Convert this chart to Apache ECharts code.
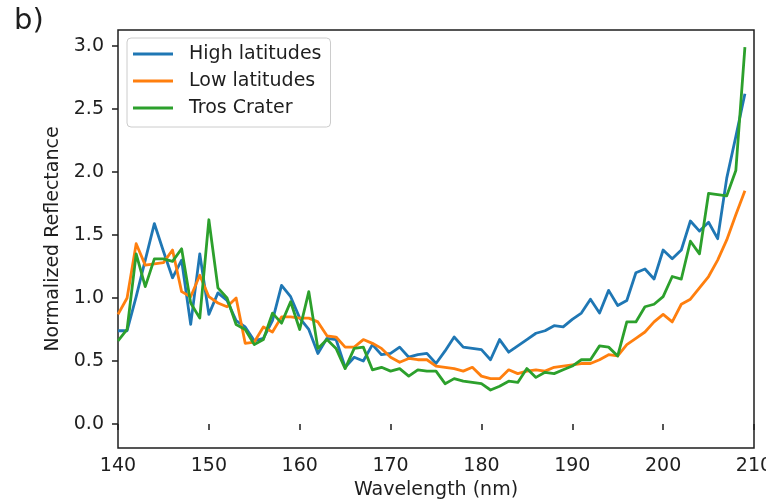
<!DOCTYPE html>
<html>
<head>
<meta charset="utf-8">
<script src="https://cdn.jsdelivr.net/npm/echarts@6/dist/echarts.min.js"></script>
<style>
  html, body { margin: 0; padding: 0; background: #fff; }
  #chart { width: 766px; height: 503px; }
</style>
</head>
<body>
<div id="chart"></div>
<script>
// Wavelength grid (nm)
const wavelengths = [
  140, 141, 142, 143, 144, 145, 146, 147, 148, 149,
  150, 151, 152, 153, 154, 155, 156, 157, 158, 159,
  160, 161, 162, 163, 164, 165, 166, 167, 168, 169,
  170, 171, 172, 173, 174, 175, 176, 177, 178, 179,
  180, 181, 182, 183, 184, 185, 186, 187, 188, 189,
  190, 191, 192, 193, 194, 195, 196, 197, 198, 199,
  200, 201, 202, 203, 204, 205, 206, 207, 208, 209
];

// Normalized reflectance spectra
const highLatitudes = [
  0.74, 0.74, 1.01, 1.30, 1.59, 1.37, 1.16, 1.30, 0.79, 1.35,
  0.87, 1.04, 0.98, 0.82, 0.77, 0.66, 0.68, 0.82, 1.10, 1.01,
  0.84, 0.75, 0.56, 0.68, 0.67, 0.45, 0.53, 0.50, 0.63, 0.55,
  0.56, 0.61, 0.53, 0.55, 0.56, 0.48, 0.58, 0.69, 0.61, 0.60,
  0.59, 0.51, 0.67, 0.57, 0.62, 0.67, 0.72, 0.74, 0.78, 0.77,
  0.83, 0.88, 0.99, 0.88, 1.06, 0.94, 0.98, 1.20, 1.23, 1.15,
  1.38, 1.31, 1.38, 1.61, 1.53, 1.60, 1.47, 1.95, 2.28, 2.62
];

const lowLatitudes = [
  0.87, 1.00, 1.43, 1.26, 1.27, 1.28, 1.38, 1.05, 1.01, 1.18,
  1.01, 0.96, 0.93, 1.00, 0.64, 0.65, 0.77, 0.73, 0.85, 0.85,
  0.84, 0.84, 0.81, 0.70, 0.69, 0.61, 0.61, 0.67, 0.64, 0.60,
  0.53, 0.49, 0.52, 0.51, 0.51, 0.46, 0.45, 0.44, 0.42, 0.45,
  0.38, 0.36, 0.36, 0.43, 0.40, 0.42, 0.43, 0.42, 0.45, 0.46,
  0.47, 0.48, 0.48, 0.51, 0.55, 0.54, 0.63, 0.68, 0.73, 0.81,
  0.87, 0.81, 0.95, 0.99, 1.08, 1.17, 1.30, 1.46, 1.66, 1.85
];

const trosCrater = [
  0.66, 0.75, 1.35, 1.09, 1.31, 1.31, 1.29, 1.39, 0.96, 0.84,
  1.62, 1.08, 1.00, 0.79, 0.75, 0.63, 0.67, 0.88, 0.80, 0.97,
  0.75, 1.05, 0.60, 0.67, 0.60, 0.44, 0.60, 0.61, 0.43, 0.45,
  0.42, 0.44, 0.38, 0.43, 0.42, 0.42, 0.32, 0.36, 0.34, 0.33,
  0.32, 0.27, 0.30, 0.34, 0.33, 0.44, 0.37, 0.41, 0.40, 0.43,
  0.46, 0.51, 0.51, 0.62, 0.61, 0.54, 0.81, 0.81, 0.93, 0.95,
  1.01, 1.17, 1.15, 1.45, 1.35, 1.83, 1.82, 1.81, 2.01, 2.99
];

const yTickValues = [0.0, 0.5, 1.0, 1.5, 2.0, 2.5, 3.0];

const FONT = 'DejaVu Sans';
const INK = '#1e1e1e';
const FS = 19;

function pairs(ys) {
  return wavelengths.map((x, i) => [x, ys[i]]);
}

function lineSeries(name, ys, color) {
  return {
    name: name,
    type: 'line',
    data: pairs(ys),
    showSymbol: false,
    symbol: 'none',
    lineStyle: { color: color, width: 2.8, join: 'round' },
    itemStyle: { color: color },
    animation: false
  };
}

const chart = echarts.init(document.getElementById('chart'), null, { renderer: 'canvas' });

chart.setOption({
  backgroundColor: '#ffffff',
  animation: false,
  textStyle: { fontFamily: FONT },
  grid: {
    left: 118, right: 12, top: 30, bottom: 55,
    outerBoundsMode: 'none',
    containLabel: false,
    show: true, borderColor: INK, borderWidth: 1.5, backgroundColor: 'transparent'
  },
  graphic: [{
    type: 'text',
    left: 14, top: 7,
    style: { text: 'b)', font: '29px "DejaVu Sans"', fill: INK }
  }],
  legend: {
    left: 127, top: 38,
    orient: 'vertical',
    icon: 'rect',
    itemWidth: 40, itemHeight: 2.8,
    itemGap: 5,
    padding: [5, 9, 8, 6],
    backgroundColor: 'rgba(255,255,255,0.8)',
    borderColor: '#cccccc', borderWidth: 1, borderRadius: 4,
    textStyle: { fontFamily: FONT, fontSize: FS, color: INK, lineHeight: 22, padding: [0, 0, 0, 11] },
    data: ['High latitudes', 'Low latitudes', 'Tros Crater']
  },
  xAxis: {
    type: 'value',
    min: 140, max: 210, interval: 10,
    name: 'Wavelength (nm)',
    nameLocation: 'middle', nameGap: 32,
    nameTextStyle: { fontFamily: FONT, fontSize: FS, color: INK },
    axisLine: { show: false },
    axisTick: { show: true, inside: false, length: 6, lineStyle: { color: INK, width: 1.5 } },
    axisLabel: { fontFamily: FONT, fontSize: FS, color: INK, margin: 9, showMaxLabel: true, hideOverlap: false },
    splitLine: { show: false }
  },
  yAxis: {
    type: 'value',
    min: -0.19, max: 3.125,
    name: 'Normalized Reflectance',
    nameLocation: 'middle', nameGap: 51,
    nameTextStyle: { fontFamily: FONT, fontSize: FS, color: INK },
    axisLine: { show: false },
    axisTick: { show: true, inside: false, length: 6, customValues: yTickValues, lineStyle: { color: INK, width: 1.5 } },
    axisLabel: {
      fontFamily: FONT, fontSize: FS, color: INK, margin: 14,
      customValues: yTickValues,
      formatter: v => v.toFixed(1)
    },
    splitLine: { show: false }
  },
  series: [
    lineSeries('High latitudes', highLatitudes, '#1f77b4'),
    lineSeries('Low latitudes', lowLatitudes, '#ff7f0e'),
    lineSeries('Tros Crater', trosCrater, '#2ca02c')
  ]
});
</script>
</body>
</html>
